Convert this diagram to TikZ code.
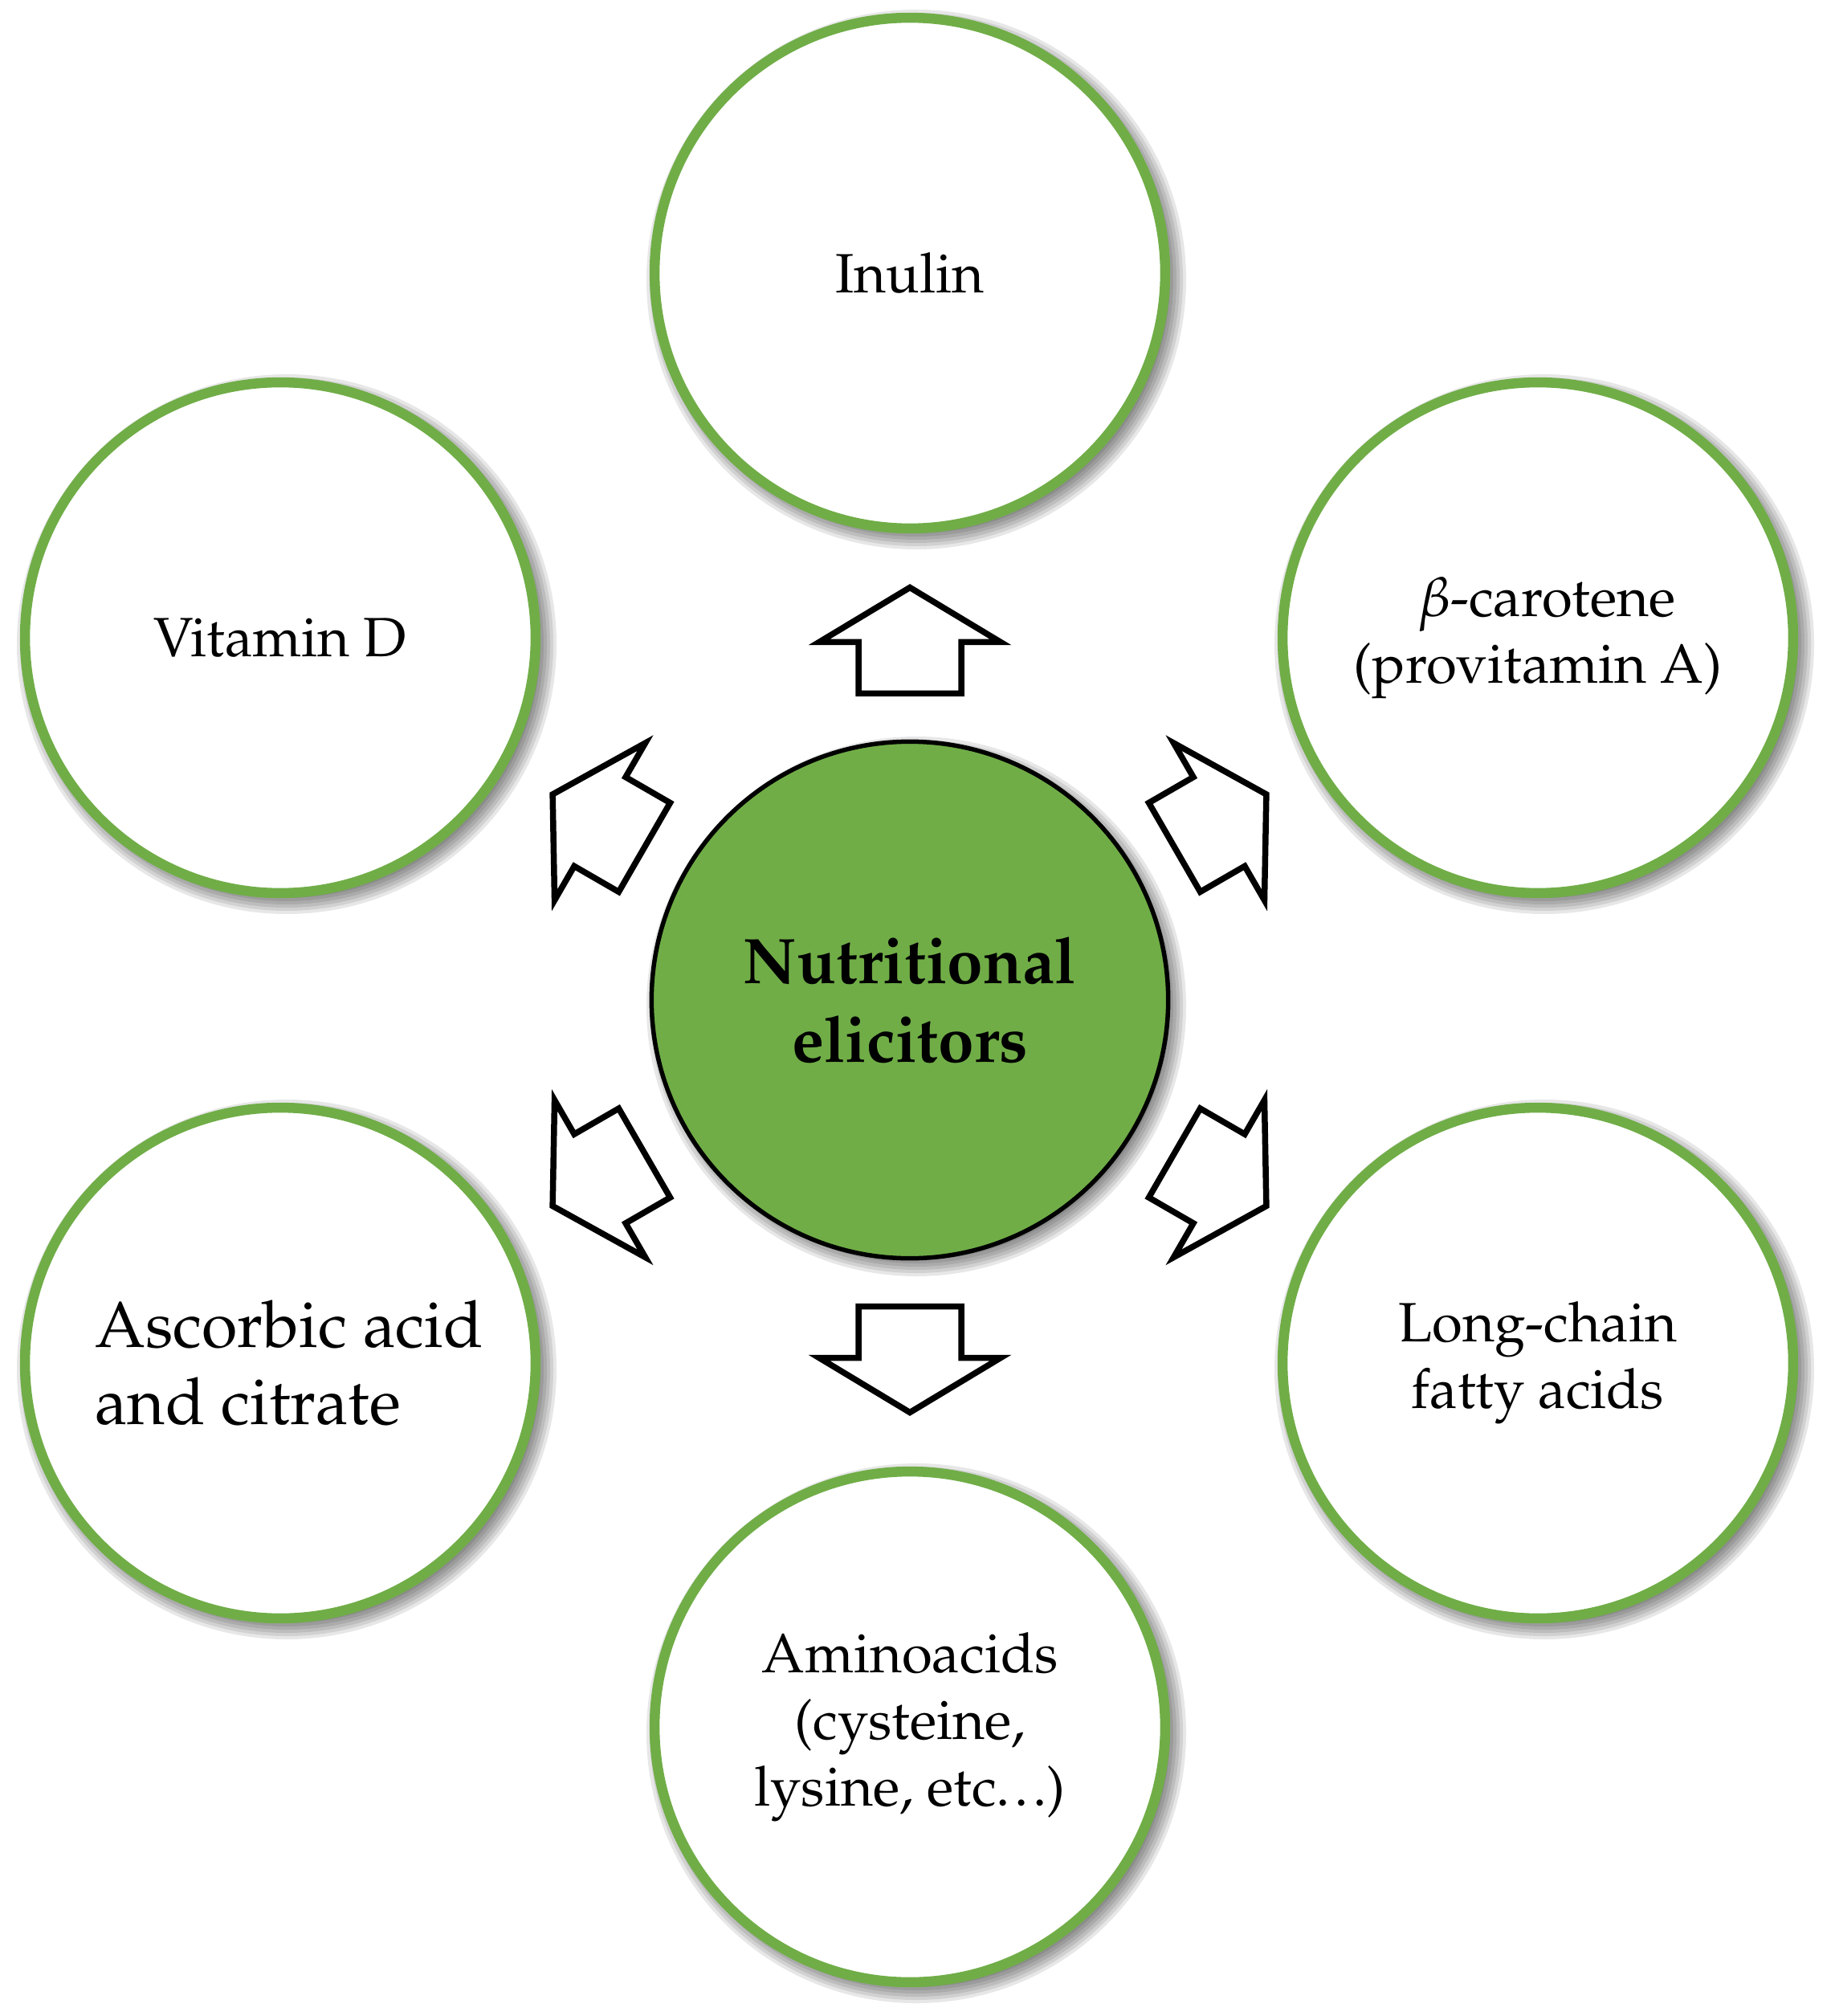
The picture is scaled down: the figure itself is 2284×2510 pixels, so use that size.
\documentclass[tikz,border=0pt]{standalone}
\usepackage[T1]{fontenc}
\usepackage{mathpazo}
\usetikzlibrary{calc}
\definecolor{lgreen}{RGB}{112,173,71}
\pgfdeclarelayer{bg}
\pgfsetlayers{bg,main}
\newcommand{\tightdots}{.\kern0.08em.\kern0.08em.}
\tikzset{
  outer/.style={circle, draw=lgreen, line width=0.125cm, fill=white,
    minimum size=6.355cm, inner sep=0pt, align=center,
    font=\fontsize{19.6}{23.6}\selectfont},
  core/.style={circle, draw=black, line width=0.055cm, fill=lgreen,
    minimum size=6.43cm, inner sep=0pt, align=center,
    font=\fontsize{22.8}{28}\selectfont\bfseries},
  arrowline/.style={draw=black, line width=0.075cm, fill=white, miter limit=20},
  blockarrow/.pic={
    \draw[arrowline] (-66,-64) -- (-2,-64) -- (-2,-113) -- (66,0)
      -- (-2,113) -- (-2,64) -- (-66,64) -- cycle;
  },
  shadowdisc/.style={fill=black, opacity=0.095},
}
\begin{document}
\begin{tikzpicture}[x=0.01cm,y=-0.01cm]
\useasboundingbox (0,0) rectangle (2284,2510);
% nodes
\node[core] (c) at (1133,1245) {Nutritional\\elicitors};
\node[outer] (inulin) at (1133,340) {Inulin};
\node[outer] (vitd) at (349,794) {Vitamin D};
\node[outer] (beta) at (1915,794) {\hspace*{0.22cm}$\beta$-carotene\\(provitamin A)};
\node[outer, align=left, font=\fontsize{23}{27.3}\selectfont] (asc) at (349,1697)
  {\hspace*{0.22cm}Ascorbic acid\\\hspace*{0.22cm}and citrate};
\node[outer] (lcfa) at (1915,1697) {Long-chain\\fatty acids};
\node[outer] (amino) at (1133,2150) {Aminoacids\\(cysteine,\\lysine, etc\tightdots)};
% shadows
\begin{pgfonlayer}{bg}
\foreach \n/\r in {c/324, inulin/324, vitd/324, beta/324, asc/324, lcfa/324, amino/324} {
  \foreach \k in {0,...,5} {
    \fill[shadowdisc] ([shift={(8,8)}]\n.center) circle [radius={(\r-8+4*\k)*0.01cm}];
  }
}
\end{pgfonlayer}
% block arrows
\pic[rotate=90]  at ($(c)!0.4945!(inulin)$) {blockarrow};
\pic[rotate=30]  at ($(c)!0.4945!(beta)$)   {blockarrow};
\pic[rotate=-30] at ($(c)!0.4945!(lcfa)$)   {blockarrow};
\pic[rotate=-90] at ($(c)!0.4945!(amino)$)  {blockarrow};
\pic[rotate=150] at ($(c)!0.4945!(vitd)$)   {blockarrow};
\pic[rotate=210] at ($(c)!0.4945!(asc)$)    {blockarrow};
\end{tikzpicture}
\end{document}
